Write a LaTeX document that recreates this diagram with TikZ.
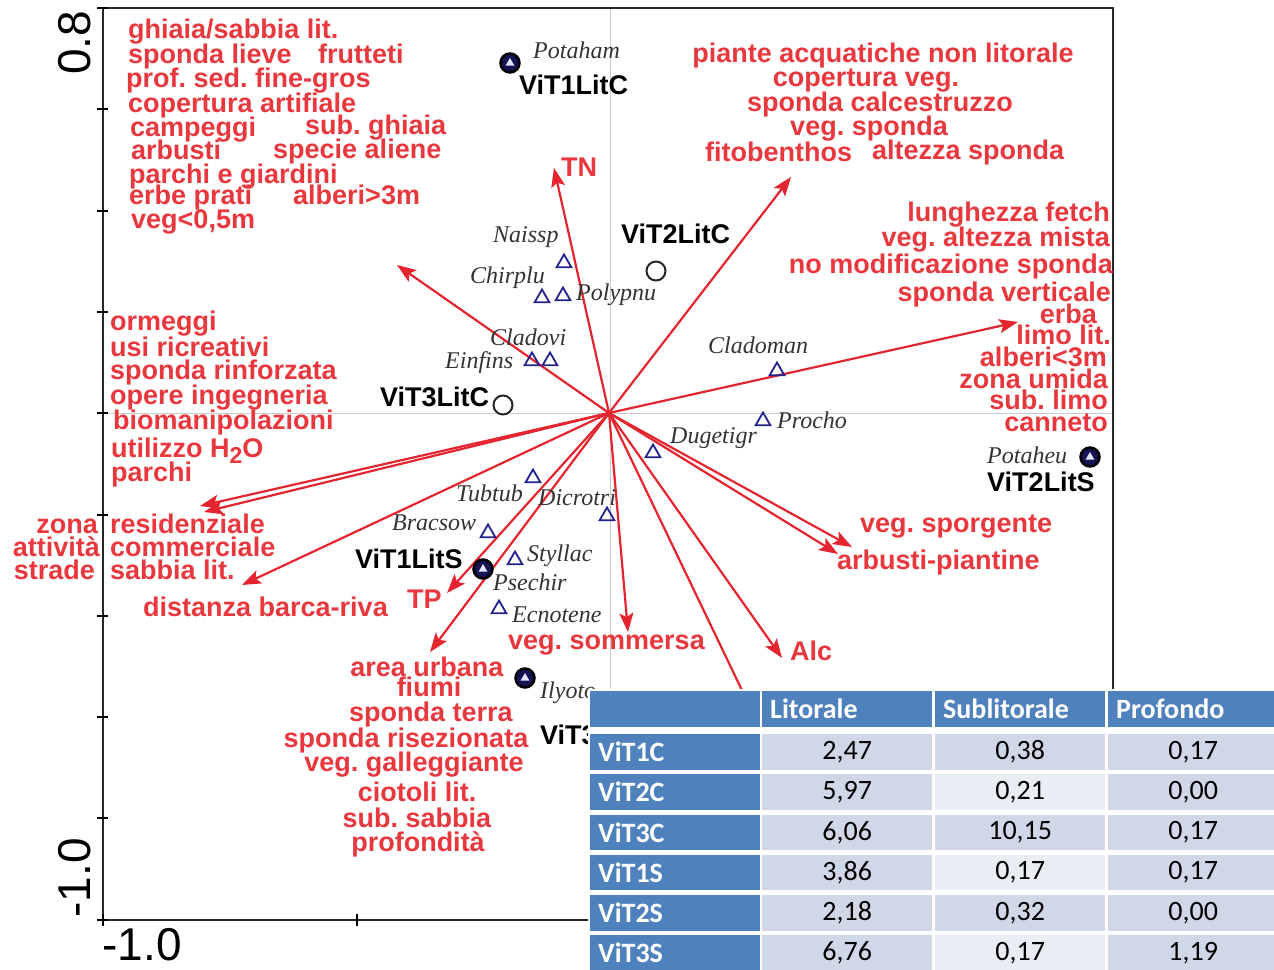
\documentclass[tikz,border=0pt]{standalone}
\usepackage{fontspec}
\setmainfont{Liberation Sans}
\newfontfamily\spfont{Liberation Serif}
\newfontfamily\tabfont{Carlito}
\usetikzlibrary{arrows.meta,shapes.geometric}
\definecolor{vred}{RGB}{228,36,46}
\definecolor{lred}{RGB}{232,56,62}
\definecolor{navy}{RGB}{34,34,140}
\definecolor{hblue}{RGB}{79,129,189}
\definecolor{cdark}{RGB}{208,216,232}
\definecolor{clight}{RGB}{233,237,244}
\frenchspacing

\begin{document}
\begin{tikzpicture}[x=1pt,y=-1pt,
  vec/.style={draw=vred,line width=2.2pt,-{Stealth[length=19pt,width=14pt,inset=4pt]}},
  lab/.style={text=lred,font=\fontsize{27}{27}\selectfont\bfseries,inner sep=0pt,text height=19pt,text depth=6pt},
  site/.style={text=black,font=\fontsize{27}{27}\selectfont\bfseries,inner sep=0pt,text height=19pt,text depth=6pt},
  spc/.style={text=black!80,font=\spfont\itshape\fontsize{24}{24}\selectfont,inner sep=0pt,anchor=west},
  tri/.style={regular polygon,regular polygon sides=3,draw=navy,line width=1.8pt,minimum size=17pt,inner sep=0pt},
  opn/.style={circle,draw=black!85,line width=2pt,minimum size=19pt,inner sep=0pt},
  ful/.style={circle,draw=black,line width=2.5pt,fill=navy!60!black,minimum size=19pt,inner sep=0pt},
  intri/.style={regular polygon,regular polygon sides=3,fill=blue!10,minimum size=10pt,inner sep=0pt},
  axl/.style={font=\fontsize{46}{46}\selectfont,inner sep=0pt},
  hcell/.style={fill=hblue,text=white,font=\tabfont\bfseries\fontsize{28}{28}\selectfont,text width=154pt,align=left,inner xsep=8pt,inner ysep=0pt,minimum height=35.5pt},
  dcell/.style={text=black,font=\tabfont\fontsize{28}{28}\selectfont,text width=154pt,align=center,inner xsep=8pt,inner ysep=0pt,minimum height=35.5pt}]
\useasboundingbox (0,0) rectangle (1274,969);

% frame and axes
\draw[black!20,line width=1pt] (610,8) -- (610,920) (103,413) -- (1113,413);
\draw[black!85,line width=2.5pt] (103,8) rectangle (1113,920);
\foreach \t in {0,...,9} \draw[line width=2pt] (97,8+\t*101.3) -- (108,8+\t*101.3);
\foreach \t in {103,356.5,610,863.5} \draw[line width=2pt] (\t,914) -- (\t,926);
\node[axl,rotate=90] (y08) at (75,43) {0.8};
\node[axl,rotate=90] (y10) at (75,878) {-1.0};
\node[axl] (x10) at (142,945) {-1.0};

% vectors
\coordinate (O) at (609,413);
\coordinate (tTN) at (554,168);
\coordinate (tFi) at (791,177);
\coordinate (tUl) at (397,265);
\coordinate (tRt) at (1018,322);
\coordinate (tL1) at (200,506);
\coordinate (tL2) at (204,512);
\coordinate (tDi) at (242,585);
\coordinate (tTP) at (447,593);
\coordinate (tUr) at (430,652);
\coordinate (tSo) at (628,632);
\coordinate (tHid) at (785,780);
\coordinate (tAl) at (782,658);
\coordinate (tSp) at (852,547);
\coordinate (tAr) at (838,554);
\foreach \t in {tTN,tFi,tUl,tRt,tL1,tL2,tDi,tTP,tUr,tSo,tHid,tAl,tSp,tAr}
  \draw[vec] (O) -- (\t);

% species
\node[tri] (naissp) at (564,263) {};
\node[tri] (chirplu) at (542,298) {};
\node[tri] (polypnu) at (563,296) {};
\node[tri] (cladovi) at (550,361) {};
\node[tri] (einfins) at (532,361) {};
\node[tri] (cladoman) at (777,371) {};
\node[tri] (procho) at (763,421) {};
\node[tri] (dugetigr) at (653,453) {};
\node[tri] (tubtub) at (533,478) {};
\node[tri] (dicrotri) at (607,516) {};
\node[tri] (bracsow) at (488,533) {};
\node[tri] (styllac) at (515,560) {};
\node[tri] (ecnotene) at (499,609) {};

% sites
\node[ful] (s1c) at (510,63) {};
\node[opn] (s2c) at (656,271) {};
\node[opn] (s3c) at (503,405) {};
\node[ful] (s2s) at (1090,457) {};
\node[ful] (s1s) at (483,569) {};
\node[ful] (s3s) at (525,678) {};
\foreach \s in {s1c,s2s,s1s,s3s} \node[intri] (i\s) at (\s) {};

\node[spc] (l-potaham) at (533,50) {Potaham};
\node[spc] (l-naissp) at (493,237) {Naissp};
\node[spc] (l-chirplu) at (470,278) {Chirplu};
\node[spc] (l-polypnu) at (576,295) {Polypnu};
\node[spc] (l-cladovi) at (490,337) {Cladovi};
\node[spc] (l-einfins) at (445,363) {Einfins};
\node[spc] (l-cladoman) at (708,345) {Cladoman};
\node[spc] (l-procho) at (777,420) {Procho};
\node[spc] (l-dugetigr) at (670,438) {Dugetigr};
\node[spc] (l-tubtub) at (456,493) {Tubtub};
\node[spc] (l-dicrotri) at (538,498) {Dicrotri};
\node[spc] (l-bracsow) at (392,523) {Bracsow};
\node[spc] (l-styllac) at (527,556) {Styllac};
\node[spc] (l-psechir) at (493,582) {Psechir};
\node[spc] (l-ecnotene) at (512,615) {Ecnotene};
\node[spc] (l-potaheu) at (987,455) {Potaheu};
\node[spc] (l-ilyoto) at (540,693) {Ilyoto};

\node[site,anchor=west] (v1lc) at (519,88) {ViT1LitC};
\node[site,anchor=west] (v2lc) at (621,237) {ViT2LitC};
\node[site,anchor=west] (v3lc) at (380,400) {ViT3LitC};
\node[site,anchor=west] (v2ls) at (987,485) {ViT2LitS};
\node[site,anchor=west] (v1ls) at (355,562) {ViT1LitS};
\node[site,anchor=west] (v3ls) at (540,738) {ViT3LitS};

% variables
\node[lab,anchor=west] (gh) at (128,32) {ghiaia/sabbia lit.};
\node[lab,anchor=west] (sl) at (128,57) {sponda lieve};
\node[lab,anchor=west] (fr) at (318,57) {frutteti};
\node[lab,anchor=west] (pf) at (126,81) {prof. sed. fine-gros};
\node[lab,anchor=west] (ca) at (128,106) {copertura artifiale};
\node[lab,anchor=west] (cp) at (130,130) {campeggi};
\node[lab,anchor=west] (sg) at (305,128) {sub. ghiaia};
\node[lab,anchor=west] (ab) at (131,153) {arbusti};
\node[lab,anchor=west] (sa) at (273,152) {specie aliene};
\node[lab,anchor=west] (pg) at (129,177) {parchi e giardini};
\node[lab,anchor=west] (ep) at (129,198) {erbe prati};
\node[lab,anchor=west] (am) at (293,198) {alberi>3m};
\node[lab,anchor=west] (vg) at (131,222) {veg<0,5m};

\node[lab,anchor=west] (om) at (110,324) {ormeggi};
\node[lab,anchor=west] (ur) at (110,350) {usi ricreativi};
\node[lab,anchor=west] (sr) at (110,373) {sponda rinforzata};
\node[lab,anchor=west] (oi) at (110,398) {opere ingegneria};
\node[lab,anchor=west] (bm) at (113,423) {biomanipolazioni};
\node[lab,anchor=west] (uh) at (111,451) {utilizzo H\raisebox{-0.22em}{\fontsize{23}{23}\selectfont 2}O};
\node[lab,anchor=west] (pa) at (111,475) {parchi};
\node[lab,anchor=east] (zo) at (98,527) {zona};
\node[lab,anchor=west] (re) at (110,527) {residenziale};
\node[lab,anchor=east] (at) at (100,550) {attività};
\node[lab,anchor=west] (co) at (110,550) {commerciale};
\node[lab,anchor=east] (sd) at (95,573) {strade};
\node[lab,anchor=west] (sb) at (110,573) {sabbia lit.};
\node[lab,anchor=west] (di) at (143,610) {distanza barca-riva};
\node[lab,anchor=west] (tp) at (407,602) {TP};

\node[lab] (au) at (427,670) {area urbana};
\node[lab] (fi) at (429,690) {fiumi};
\node[lab] (te) at (431,715) {sponda terra};
\node[lab] (ri) at (406,741) {sponda risezionata};
\node[lab] (ga) at (414,765) {veg. galleggiante};
\node[lab] (ci) at (417,795) {ciotoli lit.};
\node[lab] (ss) at (417,821) {sub. sabbia};
\node[lab] (pr) at (418,845) {profondità};

\node[lab,anchor=west] (so) at (508,643) {veg. sommersa};
\node[lab,anchor=west] (al) at (790,654) {Alc};
\node[lab,anchor=west] (sp) at (860,526) {veg. sporgente};
\node[lab,anchor=west] (ap) at (837,563) {arbusti-piantine};

\node[lab] (pn) at (883,56) {piante acquatiche non litorale};
\node[lab] (cv) at (866,80) {copertura veg.};
\node[lab] (sc) at (880,105) {sponda calcestruzzo};
\node[lab] (vs) at (869,129) {veg. sponda};
\node[lab,anchor=west] (fb) at (705,155) {fitobenthos};
\node[lab,anchor=west] (as) at (872,153) {altezza sponda};
\node[lab,anchor=west] (tn) at (561,170) {TN};

\node[lab,anchor=east] (lf) at (1110,215) {lunghezza fetch};
\node[lab,anchor=east] (va) at (1110,240) {veg. altezza mista};
\node[lab,anchor=east] (nm) at (1113,267) {no modificazione sponda};
\node[lab,anchor=east] (sv) at (1111,295) {sponda verticale};
\node[lab,anchor=east] (er) at (1097,317) {erba};
\node[lab,anchor=east] (ll) at (1111,338) {limo lit.};
\node[lab,anchor=east] (a3) at (1107,360) {alberi<3m};
\node[lab,anchor=east] (zu) at (1108,382) {zona umida};
\node[lab,anchor=east] (sm) at (1108,403) {sub. limo};
\node[lab,anchor=east] (cn) at (1108,425) {canneto};

% table
\fill[white] (588,689) rectangle (1274,969);
\node[hcell,anchor=north west] (h0) at (590,691) {};
\node[hcell,anchor=north west] (h1) at (762,691) {Litorale};
\node[hcell,anchor=north west] (h2) at (935,691) {Sublitorale};
\node[hcell,anchor=north west] (h3) at (1108,691) {Profondo};
\foreach \nm/\va/\vb/\vc [count=\i] in {ViT1C/2{,}47/0{,}38/0{,}17,ViT2C/5{,}97/0{,}21/0{,}00,ViT3C/6{,}06/10{,}15/0{,}17,ViT1S/3{,}86/0{,}17/0{,}17,ViT2S/2{,}18/0{,}32/0{,}00,ViT3S/6{,}76/0{,}17/1{,}19}{
  \pgfmathsetmacro\yy{734+(\i-1)*40.2}
  \ifodd\i \def\cf{cdark}\else\def\cf{clight}\fi
  \node[hcell,anchor=north west] (r\i) at (590,\yy) {\nm};
  \node[dcell,fill=cdark,anchor=north west] (r\i a) at (762,\yy) {\va};
  \node[dcell,fill=\cf,anchor=north west] (r\i b) at (935,\yy) {\vb};
  \node[dcell,fill=cdark,anchor=north west] (r\i c) at (1108,\yy) {\vc};
}
\end{tikzpicture}
\end{document}
